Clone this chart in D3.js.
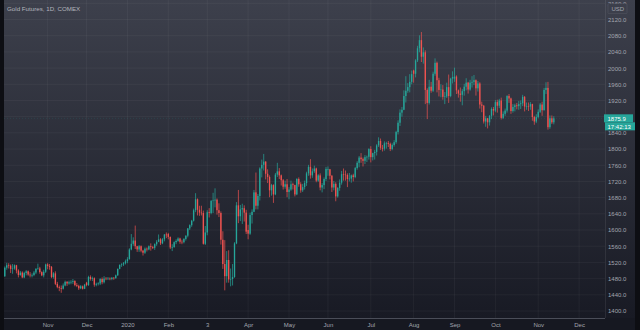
<!DOCTYPE html>
<html>
<head>
<meta charset="utf-8">
<script src="https://cdn.jsdelivr.net/npm/d3@7"></script>
<style>
  html, body { margin: 0; padding: 0; background: #12141b; overflow: hidden; }
  svg { display: block; }
  text { font-family: "Liberation Sans", Arial, sans-serif; }
</style>
</head>
<body>
<svg id="chart" width="640" height="330"></svg>
<script>
// ---- Gold Futures (COMEX), daily candles, 2 Oct 2019 – 12 Nov 2020 ----
const title = "Gold Futures, 1D, COMEX";
const firstDay = "2019-10-02";
// exchange holidays without a daily bar
const holidays = ["2019-11-28", "2019-12-25", "2020-01-01", "2020-01-20", "2020-02-17",
                  "2020-04-10", "2020-05-25", "2020-07-03", "2020-09-07"];

const open = [
  // Oct 2019
  1486,1507,1513,1512,1504,1505,1513,1500,1489,1495,1483,1494,1498,1490,1488,1489,1495,1504,1505,1496,1488,1497,
  // Nov 2019
  1515,1511,1509,1484,1493,1467,1459,1457,1455,1463,1472,1468,1471,1472,1474,1464,1462,1456,1461,1455,
  // Dec 2019
  1470,1464,1484,1479,1481,1465,1467,1468,1479,1471,1480,1479,1480,1479,1482,1481,1488,1504,1514,1515,1518,
  // Jan 2020
  1523,1528,1552,1566,1574,1560,1552,1560,1549,1544,1554,1552,1560,1558,1556,1565,1571,1577,1567,1577,1589,
  // Feb 2020
  1590,1583,1557,1558,1570,1573,1579,1571,1570,1578,1586,1604,1612,1623,1649,1676,1650,1643,1642,
  // Mar 2020
  1566,1594,1644,1642,1672,1673,1675,1649,1642,1576,1516,1486,1526,1478,1479,1484,1567,1661,1634,1651,1654,1643,
  // Apr 2020
  1600,1591,1637,1645,1693,1660,1684,1752,1761,1769,1739,1731,1698,1711,1688,1737,1745,1735,1723,1707,1713,
  // May 2020
  1694,1700,1713,1711,1688,1726,1713,1698,1706,1716,1740,1756,1735,1745,1752,1722,1735,1705,1711,1726,
  // Jun 2020
  1748,1750,1734,1705,1714,1683,1704,1717,1738,1737,1736,1726,1727,1735,1731,1753,1766,1779,1775,1771,1780,1781,
  // Jul 2020
  1800,1780,1790,1793,1809,1820,1803,1801,1814,1815,1813,1800,1810,1817,1842,1865,1890,1897,1931,1944,1953,1966,
  // Aug 2020
  1994,1986,2019,2049,2069,2028,2039,1946,1914,1954,1944,1986,2013,1970,1946,1947,1929,1930,1953,1931,1974,
  // Sep 2020
  1974,1979,1945,1937,1934,1943,1954,1964,1947,1964,1966,1970,1950,1962,1910,1907,1868,1876,1866,1882,1899,
  // Oct 2020
  1895,1916,1907,1920,1877,1887,1895,1931,1925,1894,1904,1908,1906,1911,1913,1929,1905,1906,1905,1911,1879,1868,
  // Nov 2020
  1879,1892,1910,1896,1946,1951,1854,1876,1866
];
const high = [
  1510,1519,1518,1515,1516,1515,1514,1503,1499,1498,1497,1501,1500,1496,1493,1499,1506,1517,1509,1498,1502,1517,
  1518,1516,1511,1496,1498,1472,1463,1463,1468,1475,1474,1475,1476,1479,1476,1469,1465,1464,1463,1467,
  1472,1487,1488,1485,1483,1470,1471,1481,1483,1486,1484,1484,1483,1484,1484,1490,1505,1515,1518,1521,1527,
  1533,1555,1590,1582,1611,1561,1563,1562,1551,1557,1557,1562,1567,1561,1567,1575,1589,1580,1580,1590,1594,
  1593,1584,1565,1572,1577,1582,1581,1576,1580,1587,1605,1614,1625,1653,1691,1678,1660,1660,1648,
  1610,1649,1654,1674,1692,1703,1678,1666,1646,1597,1575,1548,1550,1505,1516,1570,1669,1699,1662,1665,1661,1650,
  1613,1643,1651,1699,1742,1689,1755,1774,1788,1770,1750,1735,1714,1713,1741,1766,1753,1737,1726,1722,1726,
  1706,1722,1717,1712,1728,1730,1718,1714,1722,1744,1761,1775,1752,1759,1754,1738,1740,1716,1730,1756,
  1757,1751,1736,1721,1718,1706,1725,1746,1752,1747,1740,1741,1737,1739,1756,1770,1783,1790,1779,1785,1784,1802,
  1807,1791,1798,1812,1829,1826,1810,1819,1818,1820,1816,1814,1822,1845,1871,1898,1904,1945,1980,1963,1985,1994,
  1996,2022,2055,2081,2089,2051,2044,1950,1971,1966,1991,2024,2016,1976,1960,1958,1941,1964,1984,1976,1992,
  2001,1982,1947,1952,1948,1961,1975,1966,1971,1980,1983,1972,1968,1965,1917,1909,1882,1877,1884,1903,1904,
  1921,1922,1924,1927,1893,1900,1933,1936,1927,1911,1912,1914,1919,1920,1934,1931,1915,1915,1916,1912,1882,1886,
  1898,1914,1917,1951,1965,1966,1883,1883,1881
];
const low = [
  1484,1502,1505,1494,1492,1502,1493,1483,1487,1481,1481,1488,1487,1483,1483,1486,1491,1502,1492,1486,1483,1494,
  1503,1502,1481,1480,1464,1456,1449,1445,1453,1461,1462,1465,1466,1467,1461,1459,1452,1454,1453,1454,
  1461,1462,1475,1474,1460,1461,1463,1464,1466,1468,1476,1477,1476,1476,1477,1480,1487,1503,1509,1511,1515,
  1518,1527,1550,1561,1553,1546,1546,1545,1537,1541,1547,1550,1549,1553,1551,1561,1570,1563,1565,1572,1580,
  1577,1553,1548,1556,1565,1571,1566,1565,1567,1574,1582,1600,1608,1621,1644,1636,1635,1636,1564,
  1563,1587,1631,1639,1642,1656,1638,1632,1564,1504,1451,1470,1470,1461,1463,1482,1565,1617,1622,1615,1621,1590,
  1577,1588,1616,1644,1651,1651,1673,1730,1747,1725,1716,1681,1685,1667,1686,1731,1726,1710,1700,1702,1681,
  1676,1697,1700,1683,1686,1707,1692,1694,1700,1709,1734,1727,1729,1741,1718,1719,1698,1693,1701,1721,
  1734,1725,1694,1698,1671,1680,1697,1712,1722,1722,1706,1720,1717,1720,1728,1749,1755,1766,1757,1763,1768,1774,
  1767,1772,1774,1784,1805,1798,1794,1796,1801,1805,1795,1797,1806,1813,1836,1857,1880,1896,1915,1939,1940,1960,
  1964,1977,2015,2039,2015,2011,1911,1874,1910,1939,1941,1981,1940,1930,1928,1922,1911,1926,1914,1928,1962,
  1966,1936,1927,1917,1908,1932,1945,1937,1944,1952,1958,1932,1942,1900,1891,1863,1855,1851,1858,1874,1883,
  1891,1890,1901,1873,1874,1882,1890,1914,1887,1890,1893,1898,1897,1899,1906,1893,1897,1894,1897,1870,1860,1864,
  1876,1889,1882,1895,1936,1848,1850,1862,1861
];
const close = [
  1507,1513,1512,1504,1505,1513,1500,1489,1495,1483,1494,1498,1490,1488,1489,1495,1504,1505,1496,1488,1497,1515,
  1511,1509,1484,1493,1467,1459,1457,1455,1463,1472,1468,1471,1472,1474,1464,1462,1456,1461,1455,1465,
  1464,1484,1479,1481,1465,1467,1468,1479,1471,1480,1479,1480,1479,1482,1481,1488,1504,1514,1515,1518,1523,
  1528,1552,1566,1574,1560,1552,1560,1549,1544,1554,1552,1560,1558,1556,1565,1571,1577,1567,1577,1589,1587,
  1583,1557,1558,1570,1573,1579,1571,1570,1578,1586,1604,1612,1623,1649,1676,1650,1643,1642,1566,
  1594,1644,1642,1672,1673,1675,1649,1642,1576,1516,1486,1526,1478,1479,1484,1567,1661,1634,1651,1654,1643,1596,
  1591,1637,1645,1693,1660,1684,1752,1761,1769,1739,1731,1698,1711,1688,1737,1745,1735,1723,1707,1713,1694,
  1700,1713,1711,1688,1726,1713,1698,1706,1716,1740,1756,1735,1745,1752,1722,1735,1705,1711,1726,1751,
  1750,1734,1705,1714,1683,1704,1717,1738,1737,1736,1726,1727,1735,1731,1753,1766,1779,1775,1771,1780,1781,1800,
  1780,1790,1793,1809,1820,1803,1801,1814,1815,1813,1800,1810,1817,1842,1865,1890,1897,1931,1944,1953,1966,1985,
  1986,2019,2049,2069,2028,2039,1946,1914,1954,1944,1986,2013,1970,1946,1947,1929,1930,1953,1931,1974,1978,
  1979,1945,1937,1934,1943,1954,1964,1947,1964,1966,1970,1950,1962,1910,1907,1868,1876,1866,1882,1899,1895,
  1916,1907,1920,1877,1887,1895,1931,1925,1894,1904,1908,1906,1911,1913,1929,1905,1906,1905,1911,1879,1868,1879,
  1892,1910,1896,1946,1951,1854,1876,1866,1875.9
];

const priceTicks = [1400,1440,1480,1520,1560,1600,1640,1680,1720,1760,1800,1840,1880,1920,1960,2000,2040,2080,2120,2160];
const tickDates  = ["2019-11-01","2019-12-02","2020-01-02","2020-02-03","2020-03-03","2020-04-01","2020-05-01",
                    "2020-06-01","2020-07-01","2020-08-03","2020-09-01","2020-10-01","2020-11-02","2020-12-01"];
const tickLabels = ["Nov","Dec","2020","Feb","3","Apr","May","Jun","Jul","Aug","Sep","Oct","Nov","Dec"];
const lastPrice = 1875.9;
const countdown = "17:42:13";
const currency = "USD";

// ---- trading-day slots (weekdays without holidays), extended past the last bar ----
const parse = d3.utcParse("%Y-%m-%d"), fmt = d3.utcFormat("%Y-%m-%d");
const slots = [];
for (let d = parse(firstDay); slots.length < 330; d = d3.utcDay.offset(d, 1)) {
  const wd = d.getUTCDay();
  if (wd === 0 || wd === 6) continue;
  const s = fmt(d);
  if (d <= parse("2020-11-12") && holidays.includes(s)) continue;
  slots.push(s);
}

const bars = close.map((c, i) => ({ i, date: slots[i], o: open[i], h: high[i], l: low[i], c }));

// ---- layout ----
const W = 640, H = 330;
const plotL = 4, plotR = 605, plotB = 318, scaleR = 635;
const UP = "#26a69a", DOWN = "#ef5350";

const x = d3.scaleLinear().domain([-0.4, 308.3]).range([plotL, plotR]);
const y = d3.scaleLinear().domain([1400, 2120]).range([311, 19.5]);

const svg = d3.select("#chart");
const defs = svg.append("defs");
const grad = defs.append("linearGradient").attr("id", "bg").attr("x1", 0).attr("y1", 0).attr("x2", 0).attr("y2", 1);
grad.append("stop").attr("offset", "0%").attr("stop-color", "#3d404c");
grad.append("stop").attr("offset", "100%").attr("stop-color", "#181a24");
defs.append("clipPath").attr("id", "plotClip")
  .append("rect").attr("x", plotL).attr("y", 0).attr("width", plotR - plotL).attr("height", plotB);

// background
svg.append("rect").attr("width", W).attr("height", H).attr("fill", "#14161e");
svg.append("rect").attr("x", plotL).attr("y", 0).attr("width", scaleR - plotL).attr("height", plotB)
  .attr("fill", "url(#bg)");
svg.append("rect").attr("x", plotL).attr("y", plotB).attr("width", scaleR - plotL).attr("height", H - plotB)
  .attr("fill", "#161821");

// grid
const tickIdx = tickDates.map(d => slots.indexOf(d));
const grid = svg.append("g").attr("clip-path", "url(#plotClip)");
grid.selectAll("line.h").data(priceTicks).join("line").attr("class", "h")
  .attr("x1", plotL).attr("x2", plotR).attr("y1", d => y(d)).attr("y2", d => y(d))
  .attr("stroke", "rgba(255,255,255,0.045)").attr("stroke-width", 1);
grid.selectAll("line.v").data(tickIdx).join("line").attr("class", "v")
  .attr("x1", d => x(d)).attr("x2", d => x(d)).attr("y1", 0).attr("y2", plotB)
  .attr("stroke", "rgba(255,255,255,0.045)").attr("stroke-width", 1);

// last price line
grid.append("line")
  .attr("x1", plotL).attr("x2", plotR).attr("y1", y(lastPrice)).attr("y2", y(lastPrice))
  .attr("stroke", UP).attr("stroke-opacity", 0.22).attr("stroke-width", 0.7).attr("stroke-dasharray", "1,2");

// candles
const bodyW = 1.35;
const candles = svg.append("g").attr("clip-path", "url(#plotClip)")
  .selectAll("g").data(bars).join("g");
candles.append("line")
  .attr("x1", d => x(d.i)).attr("x2", d => x(d.i))
  .attr("y1", d => y(d.h)).attr("y2", d => y(d.l))
  .attr("stroke", d => d.c >= d.o ? UP : DOWN).attr("stroke-width", 0.7);
candles.append("rect")
  .attr("x", d => x(d.i) - bodyW / 2).attr("width", bodyW)
  .attr("y", d => y(Math.max(d.o, d.c)))
  .attr("height", d => Math.max(0.6, Math.abs(y(d.o) - y(d.c))))
  .attr("fill", d => d.c >= d.o ? UP : DOWN);

// price scale
svg.append("line").attr("x1", plotR + 0.5).attr("x2", plotR + 0.5).attr("y1", 0).attr("y2", plotB)
  .attr("stroke", "rgba(255,255,255,0.08)");
const yAxis = svg.append("g").attr("transform", `translate(${plotR},0)`)
  .call(d3.axisRight(y).tickValues(priceTicks).tickFormat(d3.format(".1f")).tickSize(0).tickPadding(3));
yAxis.select(".domain").remove();
yAxis.selectAll("text").attr("fill", "#a3a6af").attr("font-size", 6).attr("font-family", "Liberation Sans, Arial, sans-serif");

// currency badge (sits over the top price label)
svg.append("rect").attr("x", 608).attr("y", 3.6).attr("width", 19).attr("height", 10)
  .attr("fill", "#3c3f4b").attr("stroke", "rgba(255,255,255,0.12)").attr("stroke-width", 0.6).attr("rx", 1);
svg.append("text").attr("x", 611.5).attr("y", 11.4).text(currency)
  .attr("fill", "#a3a6af").attr("font-size", 6);

// last price + countdown badges
const py = y(lastPrice);
svg.append("rect").attr("x", plotR - 1).attr("y", py - 4).attr("width", 29).attr("height", 8).attr("fill", UP);
svg.append("text").attr("x", plotR + 2.5).attr("y", py + 2.2).text(d3.format(".1f")(lastPrice))
  .attr("fill", "#ffffff").attr("font-size", 6);
svg.append("rect").attr("x", plotR).attr("y", py + 4).attr("width", 31).attr("height", 8).attr("fill", UP);
svg.append("text").attr("x", plotR + 2.5).attr("y", py + 10.2).text(countdown)
  .attr("fill", "#ffffff").attr("font-size", 6);

// time scale
svg.append("line").attr("x1", plotL).attr("x2", plotR).attr("y1", plotB + 0.5).attr("y2", plotB + 0.5)
  .attr("stroke", "#4a4d58").attr("stroke-width", 1);
const xAxis = svg.append("g").attr("transform", `translate(0,${plotB})`)
  .call(d3.axisBottom(x).tickValues(tickIdx).tickFormat((d, k) => tickLabels[k]).tickSize(0).tickPadding(5));
xAxis.select(".domain").remove();
xAxis.selectAll("text").attr("fill", "#a3a6af").attr("font-size", 6).attr("font-family", "Liberation Sans, Arial, sans-serif");

// window edges
svg.append("rect").attr("x", 0).attr("y", 0).attr("width", plotL).attr("height", H).attr("fill", "#0d0e13");
svg.append("rect").attr("x", scaleR).attr("y", 0).attr("width", W - scaleR).attr("height", H).attr("fill", "#0d0e13");

// title
svg.append("text").attr("x", 7).attr("y", 11).text(title).attr("fill", "#b2b5be").attr("font-size", 6.2);
</script>
</body>
</html>
